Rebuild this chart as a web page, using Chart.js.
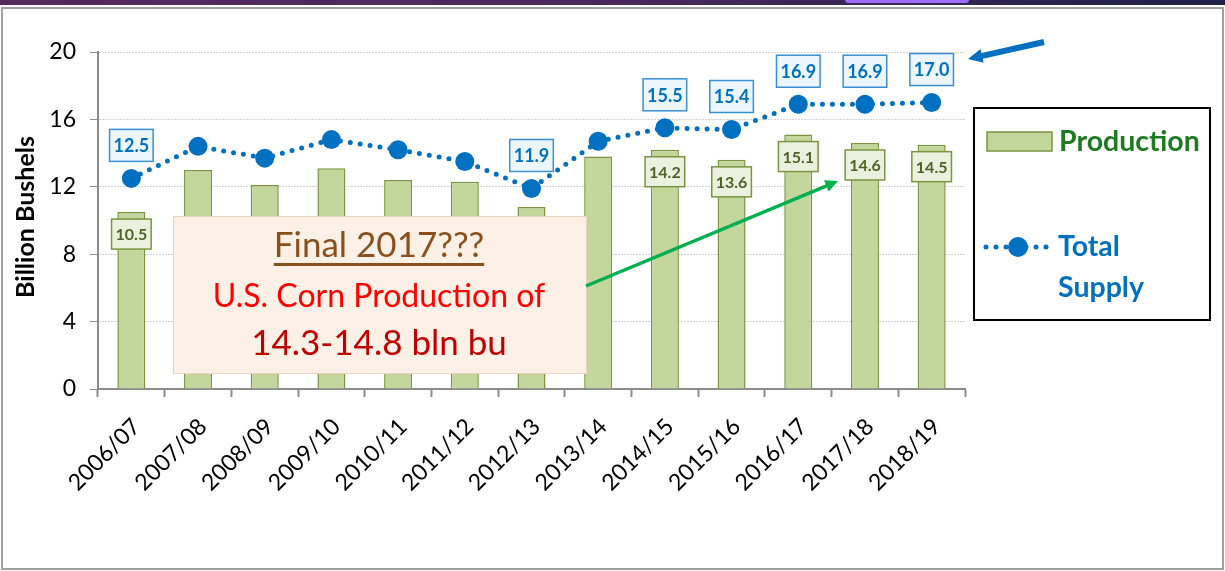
<!DOCTYPE html>
<html lang="en">
<head>
<meta charset="UTF-8">
<title>U.S. Corn Production and Total Supply</title>
<script src="https://cdn.jsdelivr.net/npm/chart.js"></script>
<style>
  html, body { margin: 0; padding: 0; background: #fff; }
  #wrap { position: relative; width: 1225px; height: 571px; }
  canvas { display: block; }
</style>
</head>
<body>
<div id="wrap"><canvas id="cornChart" width="1225" height="571"></canvas></div>
<script>
  // marketing years
  const seasons = ['2006/07', '2007/08', '2008/09', '2009/10', '2010/11', '2011/12', '2012/13',
                   '2013/14', '2014/15', '2015/16', '2016/17', '2017/18', '2018/19'];
  // billion bushels
  const production  = [10.5, 13.0, 12.1, 13.1, 12.4, 12.3, 10.8, 13.8, 14.2, 13.6, 15.1, 14.6, 14.5];
  const totalSupply = [12.5, 14.4, 13.7, 14.8, 14.2, 13.5, 11.9, 14.7, 15.5, 15.4, 16.9, 16.9, 17.0];
  // which points carry a value box
  const productionLabelIdx = [0, 8, 9, 10, 11, 12];
  const supplyLabelIdx = [0, 6, 8, 9, 10, 11, 12];
  const yTicks = [0, 4, 8, 12, 16, 20];

  const FONT = 'Lato, "Open Sans", sans-serif';
  const BLUE = '#0070c0';

  function valueBox(ctx, text, cx, cy, o) {
    ctx.font = o.font;
    const w = ctx.measureText(text).width + o.padX * 2;
    const h = o.h;
    ctx.fillStyle = o.fill;
    ctx.fillRect(cx - w / 2, cy - h / 2, w, h);
    ctx.strokeStyle = o.stroke;
    ctx.lineWidth = 1.5;
    ctx.strokeRect(cx - w / 2, cy - h / 2, w, h);
    ctx.fillStyle = o.color;
    ctx.textAlign = 'center';
    ctx.textBaseline = 'middle';
    ctx.fillText(text, cx, cy + 1);
  }

  function arrow(ctx, x1, y1, x2, y2, color, width, head) {
    const a = Math.atan2(y2 - y1, x2 - x1);
    ctx.save();
    ctx.strokeStyle = color;
    ctx.fillStyle = color;
    ctx.lineWidth = width;
    ctx.beginPath();
    ctx.moveTo(x1, y1);
    ctx.lineTo(x2 - Math.cos(a) * head * 0.7, y2 - Math.sin(a) * head * 0.7);
    ctx.stroke();
    ctx.beginPath();
    ctx.moveTo(x2, y2);
    ctx.lineTo(x2 - head * Math.cos(a - 0.45), y2 - head * Math.sin(a - 0.45));
    ctx.lineTo(x2 - head * Math.cos(a + 0.45), y2 - head * Math.sin(a + 0.45));
    ctx.closePath();
    ctx.fill();
    ctx.restore();
  }

  const decor = {
    id: 'decor',
    beforeDraw(chart) {
      const ctx = chart.ctx;
      ctx.save();
      ctx.fillStyle = '#fff';
      ctx.fillRect(0, 0, chart.width, chart.height);
      // slide header strip
      const g = ctx.createLinearGradient(0, 0, chart.width, 0);
      g.addColorStop(0, '#55295c');
      g.addColorStop(0.5, '#4a2a5e');
      g.addColorStop(1, '#1f2048');
      ctx.fillStyle = g;
      ctx.fillRect(0, 0, chart.width, 5);
      ctx.fillStyle = '#9d6cfa';
      ctx.beginPath();
      ctx.roundRect(845, -4, 124, 7, 4);
      ctx.fill();
      // frame
      ctx.strokeStyle = '#a0a0a0';
      ctx.lineWidth = 2;
      ctx.strokeRect(2, 8, 1221, 561);
      ctx.restore();
    },
    afterDatasetsDraw(chart) {
      const ctx = chart.ctx;
      ctx.save();
      const bars = chart.getDatasetMeta(1).data;
      productionLabelIdx.forEach(i => {
        const b = bars[i];
        valueBox(ctx, production[i].toFixed(1), b.x, b.y + 22, {
          font: 'bold 16px ' + FONT, padX: 4, h: 30,
          fill: '#ebf1de', stroke: '#7a9440', color: '#4f6228'
        });
      });
      const pts = chart.getDatasetMeta(0).data;
      supplyLabelIdx.forEach(i => {
        const p = pts[i];
        valueBox(ctx, totalSupply[i].toFixed(1), p.x, p.y - 33, {
          font: 'bold 18px ' + FONT, padX: 4, h: 32,
          fill: '#eef6fd', stroke: '#3a8fd6', color: BLUE
        });
      });

      // y axis title
      ctx.save();
      ctx.translate(26, 217);
      ctx.rotate(-Math.PI / 2);
      ctx.font = 'bold 25px ' + FONT;
      ctx.fillStyle = '#000';
      ctx.textAlign = 'center';
      ctx.textBaseline = 'middle';
      ctx.fillText('Billion Bushels', 0, 0);
      ctx.restore();

      // call-out box
      ctx.fillStyle = '#fdf1e7';
      ctx.fillRect(173, 216, 413, 157);
      ctx.strokeStyle = '#ecd3c0';
      ctx.lineWidth = 1;
      ctx.strokeRect(173.5, 216.5, 413, 157);
      ctx.textAlign = 'center';
      ctx.textBaseline = 'middle';
      ctx.font = '35px ' + FONT;
      ctx.fillStyle = '#8b4f1d';
      ctx.fillText('Final 2017???', 379, 246);
      const tw = ctx.measureText('Final 2017???').width;
      ctx.fillRect(379 - tw / 2, 263, tw, 3);
      ctx.font = '32px ' + FONT;
      ctx.fillStyle = '#ff0000';
      ctx.fillText('U.S. Corn Production of', 379, 297);
      ctx.font = '35px ' + FONT;
      ctx.fillStyle = '#c00000';
      ctx.fillText('14.3-14.8 bln bu', 379, 344);

      arrow(ctx, 586, 286, 838, 181, '#00b050', 3.5, 14);
      arrow(ctx, 1044, 42, 968, 59, BLUE, 6, 16);

      // legend
      ctx.strokeStyle = '#000';
      ctx.lineWidth = 2;
      ctx.strokeRect(974, 108, 236, 212);
      ctx.fillStyle = '#c3d69b';
      ctx.fillRect(987, 132, 65, 19);
      ctx.strokeStyle = '#7a9440';
      ctx.lineWidth = 1.5;
      ctx.strokeRect(987, 132, 65, 19);
      ctx.font = 'bold 28.5px ' + FONT;
      ctx.textAlign = 'left';
      ctx.fillStyle = '#1e7b22';
      ctx.fillText('Production', 1059, 142);
      ctx.strokeStyle = BLUE;
      ctx.lineWidth = 5;
      ctx.lineCap = 'round';
      ctx.setLineDash([0, 10]);
      ctx.beginPath();
      ctx.moveTo(986, 247);
      ctx.lineTo(1050, 247);
      ctx.stroke();
      ctx.setLineDash([]);
      ctx.fillStyle = BLUE;
      ctx.beginPath();
      ctx.arc(1018, 247, 10, 0, Math.PI * 2);
      ctx.fill();
      ctx.fillText('Total', 1058, 247);
      ctx.fillText('Supply', 1058, 288);
      ctx.restore();
    }
  };

  const ctx = document.getElementById('cornChart').getContext('2d');
  new Chart(ctx, {
    data: {
      labels: seasons,
      datasets: [
        {
          type: 'line',
          label: 'Total Supply',
          data: totalSupply,
          borderColor: BLUE,
          borderWidth: 5,
          borderDash: [0, 10],
          borderCapStyle: 'round',
          pointRadius: 9.5,
          pointHoverRadius: 9.5,
          pointBackgroundColor: BLUE,
          pointBorderWidth: 0,
          tension: 0,
          order: 0
        },
        {
          type: 'bar',
          label: 'Production',
          data: production,
          backgroundColor: '#c3d69b',
          borderColor: '#7a9440',
          borderWidth: 1.5,
          barPercentage: 0.42,
          categoryPercentage: 1,
          order: 1
        }
      ]
    },
    options: {
      responsive: false,
      animation: false,
      layout: { padding: { left: 0, right: 260, top: 52, bottom: 0 } },
      plugins: { legend: { display: false }, tooltip: { enabled: false } },
      scales: {
        x: {
          offset: true,
          grid: { offset: true, drawOnChartArea: false, tickLength: 8, tickColor: '#8c8c8c', tickWidth: 2 },
          border: { color: '#8c8c8c', width: 2 },
          ticks: { font: { family: FONT, size: 23 }, color: '#000', minRotation: 45, maxRotation: 45, padding: 16, labelOffset: 5, autoSkip: false },
          afterFit(s) { s.height = 182; }
        },
        y: {
          min: 0,
          max: 20,
          afterBuildTicks(s) { s.ticks = yTicks.map(v => ({ value: v })); },
          grid: { color: '#d2d2d2', tickColor: '#8c8c8c', tickLength: 8, lineWidth: 1 },
          border: { color: '#8c8c8c', width: 2, dash: [2, 1] },
          ticks: { font: { family: FONT, size: 23 }, color: '#000', padding: 14 },
          afterFit(s) { s.width = 98; }
        }
      }
    },
    plugins: [decor]
  });
</script>
</body>
</html>
